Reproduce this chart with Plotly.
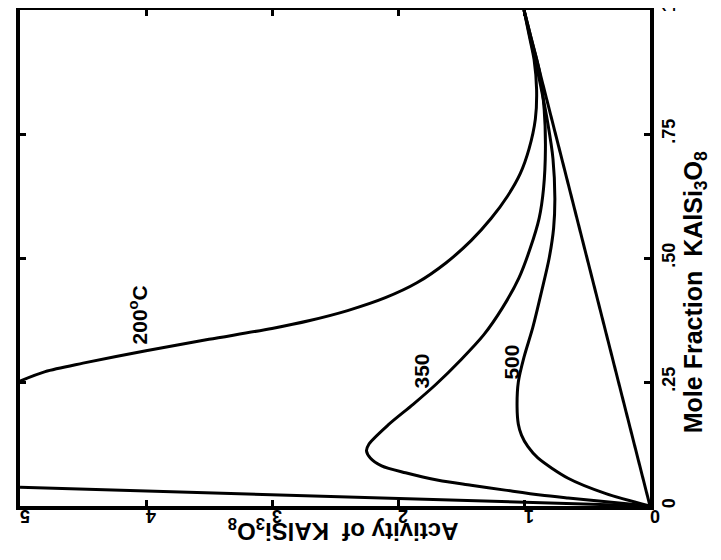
import plotly.graph_objects as go

# ---- data ----
# Activity of KAlSi3O8 (horizontal in picture, reversed) vs mole fraction KAlSi3O8
act_ideal = [0.0, 1.0]
mf_ideal = [0.0, 1.0]

act_200_low = [0.0, 5.0]
mf_200_low = [0.0, 0.038]

act_200 = [5.0, 4.8, 4.5, 4.0, 3.5, 3.0, 2.7, 2.4, 2.1, 1.85, 1.62, 1.42, 1.26, 1.13,
           1.03, 0.96, 0.91, 0.90, 0.92, 0.96, 1.0]
mf_200 = [0.252, 0.271, 0.288, 0.313, 0.336, 0.358, 0.374, 0.394, 0.42, 0.45, 0.49,
          0.535, 0.58, 0.625, 0.67, 0.72, 0.78, 0.84, 0.90, 0.95, 1.0]

act_350 = [0.0, 0.65, 0.87, 1.15, 1.42, 1.68, 1.94, 2.13, 2.22, 2.25, 2.23, 2.08, 1.88,
           1.70, 1.50, 1.32, 1.17, 1.04, 0.95, 0.88, 0.845, 0.83, 0.84, 0.88, 0.94, 1.0]
mf_350 = [0.0, 0.016, 0.022, 0.032, 0.042, 0.052, 0.067, 0.081, 0.097, 0.111, 0.125,
          0.163, 0.205, 0.245, 0.295, 0.345, 0.40, 0.46, 0.52, 0.58, 0.64, 0.72, 0.80,
          0.88, 0.94, 1.0]

act_500 = [0.0, 0.35, 0.65, 0.89, 0.97, 1.02, 1.045, 1.055, 1.045, 1.0, 0.93, 0.86,
           0.80, 0.765, 0.755, 0.77, 0.81, 0.87, 0.93, 1.0]
mf_500 = [0.0, 0.025, 0.056, 0.097, 0.12, 0.143, 0.165, 0.20, 0.25, 0.30, 0.36, 0.433,
          0.50, 0.56, 0.62, 0.70, 0.77, 0.85, 0.92, 1.0]

curve_labels = ["200<sup>o</sup>C", "350", "500"]
label_act = [4.06, 1.81, 1.10]
label_mf = [0.385, 0.273, 0.29]

act_ticks = [0, 1, 2, 3, 4, 5]
act_ticktext = ["0", "1", "2", "3", "4", "5"]
mf_ticks = [0, 0.25, 0.5, 0.75, 1]
mf_ticktext = ["0", ".25", ".50", ".75", "1"]

FONT = "Liberation Sans"
line_style = dict(color="black", width=3)

fig = go.Figure()
for xs, ys in [(act_ideal, mf_ideal), (act_200_low, mf_200_low), (act_200, mf_200),
               (act_350, mf_350), (act_500, mf_500)]:
    fig.add_trace(go.Scatter(x=xs, y=ys, mode="lines", line=line_style,
                             line_shape="spline", line_smoothing=0.8,
                             showlegend=False, hoverinfo="skip"))

for txt, a, m in zip(curve_labels, label_act, label_mf):
    fig.add_annotation(x=a, y=m, text="<b>" + txt + "</b>", showarrow=False, textangle=-90,
                       font=dict(family=FONT, size=21, color="black"))

# axis titles (rotated as in the reference)
fig.add_annotation(xref="paper", yref="paper", x=0.513, y=-0.084,
                   text="<b>Activity of  KAlSi<sub>3</sub>O<sub>8</sub></b>", showarrow=False,
                   textangle=180,
                   font=dict(family=FONT, size=24, color="black"))
fig.add_annotation(xref="paper", yref="paper", x=1.100, y=0.431,
                   text="<b>Mole Fraction  KAlSi<sub>3</sub>O<sub>8</sub></b>", showarrow=False,
                   textangle=-90,
                   font=dict(family=FONT, size=25, color="black"))

fig.update_xaxes(range=[5, 0], tickvals=act_ticks,
                 ticktext=["<b>" + t + "</b>" for t in act_ticktext], tickangle=180,
                 ticks="inside", ticklen=6, tickwidth=2.5, tickcolor="black",
                 showline=True, linecolor="black", linewidth=3.5, mirror="ticks",
                 showgrid=False, zeroline=False, automargin=False,
                 ticklabeloverflow="allow", ticklabelstandoff=-3,
                 tickfont=dict(family=FONT, size=18, color="black"))
fig.update_yaxes(range=[0, 1], side="right", tickvals=mf_ticks,
                 ticktext=["<b>" + t + "</b>" for t in mf_ticktext],
                 tickangle=-90,
                 ticks="inside", ticklen=6, tickwidth=2.5, tickcolor="black",
                 showline=True, linecolor="black", linewidth=3.5, mirror="ticks",
                 showgrid=False, zeroline=False, automargin=False,
                 ticklabeloverflow="allow",
                 tickfont=dict(family=FONT, size=18, color="black"))

fig.update_layout(width=721, height=560, margin=dict(l=12, r=79, t=2, b=62),
                  paper_bgcolor="white", plot_bgcolor="white")
fig.write_html("out.html")
